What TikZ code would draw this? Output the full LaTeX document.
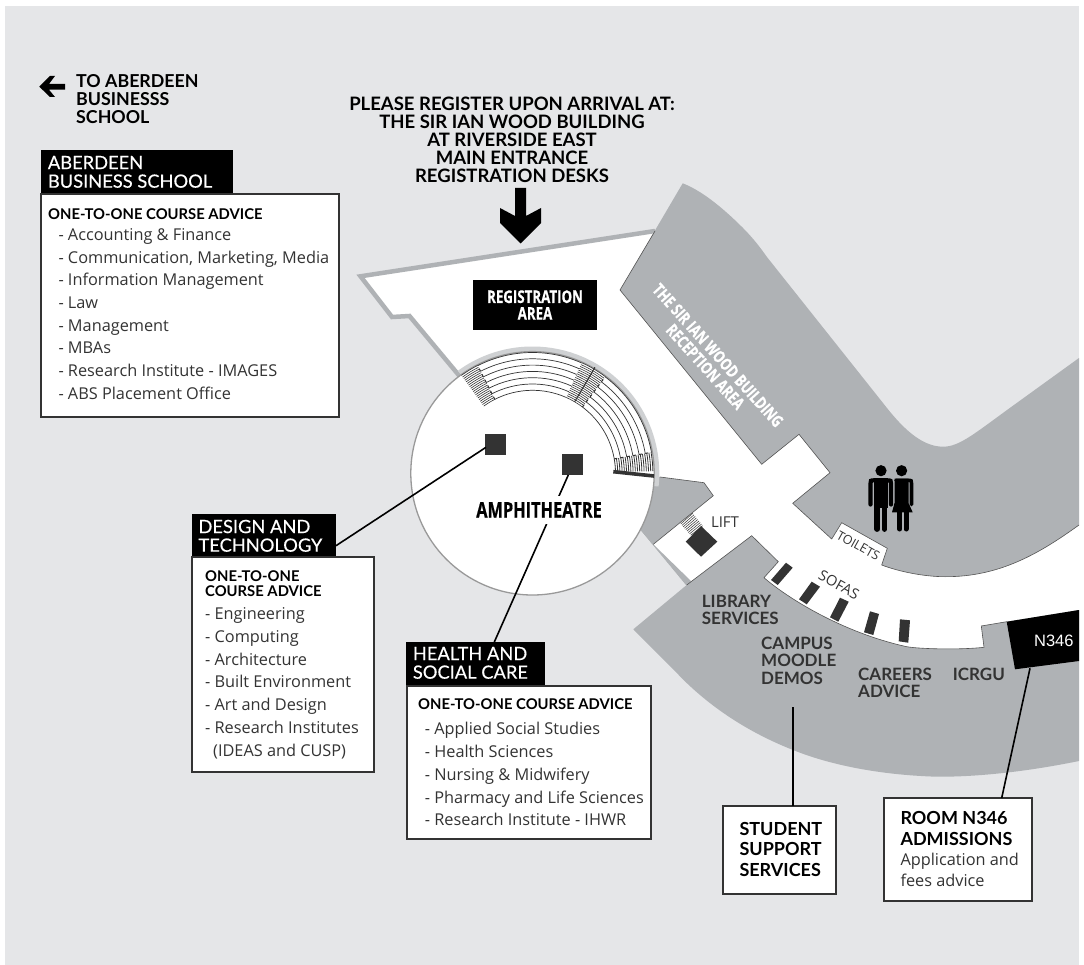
\documentclass[tikz,border=0pt]{standalone}
\usepackage{fontspec}
\usetikzlibrary{calc}
\setmainfont{Open Sans}
\newfontfamily\condf[FakeStretch=0.76,FakeBold=0.6]{Open Sans}[BoldFont={Open Sans Bold}]
\newfontfamily\capsf{Lato}
\newfontfamily\hdf[FakeBold=0.4]{Lato}
\newfontfamily\arialf{Liberation Sans}
\definecolor{bggrey}{HTML}{E5E6E8}
\definecolor{dgrey}{HTML}{AFB2B5}
\definecolor{lgrey}{HTML}{CFD1D3}
\definecolor{ink}{HTML}{333333}
\definecolor{edge}{HTML}{555555}
\tikzset{
  txt/.style={inner sep=0pt,anchor=base west,align=left,text=ink},
  hd/.style={txt,font=\hdf\fontsize{18.3}{18.6}\selectfont,text=white},
  sub/.style={txt,font=\capsf\fontsize{14.8}{15}\bfseries\selectfont,text=black},
  lst/.style={txt,font=\fontsize{16.3}{22.7}\selectfont},
  roomlab/.style={txt,font=\capsf\fontsize{17}{17.3}\bfseries\selectfont},
  boxed/.style={draw=ink,line width=1.8pt,fill=white,inner sep=0pt,anchor=north west},
  conn/.style={line width=1.6pt,black},
  edgeline/.style={draw=edge,line width=0.6pt},
  seat/.style={ink,line width=0.7pt},
  furn/.style={fill=ink},
}
\begin{document}
\begin{tikzpicture}[x=1pt,y=-1pt]
\useasboundingbox (0,0) rectangle (1084,965);
\fill[bggrey] (5,6) rectangle (1079,965);
% white floor
\fill[white] (360,276) -- (655,232) -- (700,300) -- (880,480) -- (1079,450) -- (1079,640) -- (1000,660) -- (900,660) -- (780,620) -- (690,590) -- (640,530) -- (460,375) -- (409,316) -- (392,317) -- cycle;
% wedge beside amphitheatre
\fill[dgrey] (640,470) -- (660,477) -- (704,482.7) -- (713.3,495.7) -- (653.3,544.3) -- (691.7,581.7) -- (686.7,586) -- (641.7,531.7) -- (620,500) -- cycle;
\draw[edgeline] (660,477) -- (704,482.7) -- (713.3,495.7) -- (653.3,544.3);
% wall
\draw[dgrey,line width=4.5pt,miter limit=10] (655,231) -- (360.5,276.3) -- (392,317) -- (409.5,316) -- (459.5,376);
% upper grey block
\fill[dgrey] (682.7,183.3) .. controls (700,190) and (720,205) .. (743,228) .. controls (752,237) and (760,247) .. (766.7,256.7) -- (883,403) .. controls (900,425) and (920,446.7) .. (943,446.7) .. controls (960,446.7) and (975,433) .. (1016.7,403) -- (1079,358) -- (1079,525) .. controls (1040,553) and (1000,577) .. (945,576.7) .. controls (925,576.7) and (900,572) .. (881.7,565) -- (887.3,548.3) -- (841.7,522.7) -- (831.7,539) -- (792.7,503.3) -- (830,472.7) -- (799,434.3) -- (761.7,464.3) -- (620,290) -- cycle;
\draw[edgeline] (655,231) -- (620,290) -- (761.7,464.3) -- (799,434.3) -- (830,472.7) -- (792.7,503.3) -- (831.7,539) -- (841.7,522.7) -- (887.3,548.3) -- (881.7,565) .. controls (900,572) and (925,576.7) .. (945,576.7) .. controls (1000,577) and (1040,553) .. (1079,525);
% lower grey block
\fill[dgrey] (633.3,629.3) -- (686.7,585) -- (751.7,535.7) -- (778.3,561.7) -- (764,577.7) .. controls (785,596) and (840,632) .. (906.7,646.7) .. controls (920,649) and (960,650) .. (984,647.3) -- (981.3,626) -- (1006.7,621.7) -- (1079,610) -- (1079,761) .. controls (1030,771) and (980,777) .. (936.7,776.7) .. controls (880,775) and (830,765) .. (793,750) .. controls (750,733) and (715,710) .. (686.7,683) -- cycle;
\draw[edgeline] (686.7,585) -- (751.7,535.7) -- (778.3,561.7) -- (764,577.7) .. controls (785,596) and (840,632) .. (906.7,646.7) .. controls (920,649) and (960,650) .. (984,647.3) -- (981.3,626) -- (1006.7,621.7);
% N346
\fill[black] (1006.7,621.7) -- (1079,610) -- (1079,661) -- (1015,669.3) -- cycle;
\node[inner sep=0pt,text=white,font=\arialf\fontsize{16.5}{18}\selectfont] (n346) at (1053.8,641) {N346};
\coordinate (n346foot) at (1030,668.3);
% amphitheatre
\begin{scope}[shift={(532.5,473.3)}]
  \draw[lgrey,line width=5pt] (-126:124.3) arc (-126:6:124.3);
  \draw[fill=white,draw=gray!80,line width=1.3pt] (0,0) circle (121.7);
  % rows
  \foreach \r in {83,89.3,95.6,101.9,108.2,114.5,120.8} {
    \draw[seat] (-66:\r) arc (-66:-117:\r);
    \draw[seat] (-53:\r) arc (-53:-10:\r);
  }
  % stairs
  \foreach \r in {83,85,...,121} {
    \draw[ink,line width=0.6pt] (-117:\r) arc (-117:-126:\r);
    \draw[ink,line width=0.6pt] (-53:\r) arc (-53:-66:\r);
  }
  \foreach \r in {83,85.2,...,121} {
    \draw[ink,line width=0.8pt] (-1:\r) arc (-1:-10:\r);
  }
  \draw[ink,line width=1pt] (-59.5:83) -- (-59.5:123);
  \draw[ink,line width=1pt,dash pattern=on 3pt off 3.3pt] (-117:83) -- (-117:121);
  \draw[ink,line width=1pt,dash pattern=on 3pt off 3.3pt] (-53:83) -- (-53:121);
  \draw[ink,line width=1pt,dash pattern=on 3pt off 3.3pt] (-10:83) -- (-10:121);
\end{scope}
\draw[ink,line width=3.6pt] (613.3,471.7) -- (654,476);
% lift
\fill[furn] (701,526) -- (717.3,541.7) -- (701,556.7) -- (685.7,541.7) -- cycle;
\foreach \t in {0,0.125,...,1} {
  \draw[ink,line width=0.5pt] ($(680.7,524)!\t!(690.7,535.3)$) -- ($(692.7,513.3)!\t!(702.7,525.7)$);
}
% sofas
\fill[furn] (786,562.7) -- (792.7,567.7) -- (777.7,585) -- (771,580) -- cycle;
\fill[furn] (811.7,581.7) -- (820,586.7) -- (806.7,604.3) -- (799,599.3) -- cycle;
\fill[furn] (840,597.7) -- (848.7,601.7) -- (838.3,621.7) -- (830,617.3) -- cycle;
\fill[furn] (870,611.3) -- (879,614) -- (873.3,635) -- (864,632.3) -- cycle;
\fill[furn] (900,619.3) -- (910,620.3) -- (908.3,642.7) -- (898.7,641.3) -- cycle;
% people
\fill[black] (881,470.7) circle (5.6);
\fill[black] (901.6,470.7) circle (5.6);
\draw[black,line width=4.2pt,line cap=round] (870.5,504.5) -- (870.5,483.5) .. controls (870.5,480.5) .. (874,480.3) -- (887,480.3) .. controls (891,480.5) .. (891,483.5) -- (891,504.5);
\fill[black] (874,478.5) rectangle (887.5,508);
\draw[black,line width=5.8pt,line cap=round] (877.3,505) -- (877.3,529);
\draw[black,line width=5.8pt,line cap=round] (884.5,505) -- (884.5,529);
\draw[black,line width=3.6pt,line cap=round] (911.5,504.5) -- (911.5,483.5) .. controls (911.5,480.5) .. (908,480.3) -- (896,480.3);
\fill[black] (894.5,478.5) -- (908.5,478.5) -- (908.5,503) -- (912.7,512.3) -- (892,512.3) -- (894.5,503) -- cycle;
\draw[black,line width=5pt,line cap=round] (899.7,510) -- (899.7,529);
\draw[black,line width=5pt,line cap=round] (906,510) -- (906,529);
% rotated labels
\node[inner sep=0pt,align=center,text=white,rotate=-48,font=\condf\bfseries\fontsize{16.8}{17}\selectfont] (reception) at (711.7,361) {THE SIR IAN WOOD BUILDING\\RECEPTION AREA};
\node[inner sep=0pt,text=ink,rotate=-29,font=\fontsize{12.5}{15}\selectfont] (toilets) at (858.3,545.7) {TOILETS};
\node[inner sep=0pt,text=ink,rotate=-29,font=\fontsize{14.5}{17}\selectfont] (sofas) at (839,585) {SOFAS};
\node[inner sep=0pt,text=ink,font=\fontsize{15}{17}\selectfont] (lift) at (725,522.5) {LIFT};
% room labels
\node[roomlab] (library) at (701.7,624.3) {LIBRARY\\SERVICES};
\node[roomlab] (moodle) at (761,684) {CAMPUS\\MOODLE\\DEMOS};
\node[roomlab] (careers) at (858,697.3) {CAREERS\\ADVICE};
\node[roomlab] (icrgu) at (952.7,680) {ICRGU};
% registration
\node[fill=black,text=white,inner sep=0pt,minimum width=124pt,minimum height=50pt,align=center,font=\condf\bfseries\fontsize{17.5}{16.7}\selectfont] (regarea) at (535,305) {REGISTRATION\\AREA};
% top arrow
\fill[black] (515,188) -- (526,188) -- (526,216) -- (541,208) -- (541,223) -- (520.5,243.5) -- (500,223) -- (500,208) -- (515,216) -- cycle;
\node[txt,text=black,align=center,anchor=base,font=\capsf\fontsize{18.5}{18.1}\bfseries\selectfont] (please) at (512,182.7) {PLEASE REGISTER UPON ARRIVAL AT:\\THE SIR IAN WOOD BUILDING\\AT RIVERSIDE EAST\\MAIN ENTRANCE\\REGISTRATION DESKS};
% left arrow
\fill[black] (39.3,86.7) -- (50,76) -- (55,76) -- (49,84) -- (65,84) -- (65,89.7) -- (49,89.7) -- (55,97) -- (50,97) -- cycle;
\node[txt,text=black,font=\capsf\fontsize{17.8}{18}\bfseries\selectfont] (toabs) at (76,123.3) {TO ABERDEEN\\BUSINESSS\\SCHOOL};
% ABS
\fill[black] (41,150) rectangle (232.7,194);
\node[hd] (abshd) at (47.7,187.7) {ABERDEEN\\BUSINESS SCHOOL};
\draw[boxed] (40.7,194) rectangle (339.3,416.7);
\node[sub] (abssub) at (48,219.3) {ONE-TO-ONE COURSE ADVICE};
\node[lst] (abslist) at (58.3,399.3) {- Accounting \& Finance\\- Communication, Marketing, Media\\- Information Management\\- Law\\- Management\\- MBAs\\- Research Institute - IMAGES\\- ABS Placement Office};
% connectors
\fill[ink] (485,434) rectangle (506,455);
\fill[ink] (562,454) rectangle (583,475);
\coordinate (sqa) at (486,447.3);
\coordinate (sqb) at (568.3,475);
\coordinate (dthd) at (336,545.7);
\coordinate (hshd) at (494.3,642);
\draw[conn] (sqa) -- (dthd);
\draw[conn] (sqb) -- (hshd);
\node[fill=white,inner xsep=2pt,inner ysep=6pt,text=black,font=\condf\bfseries\fontsize{21.5}{22}\selectfont] (amphi) at (539,509.8) {AMPHITHEATRE};
% Design
\fill[black] (192,514) rectangle (336,557.3);
\node[hd] (dthead) at (198.3,551.7) {DESIGN AND\\TECHNOLOGY};
\draw[boxed] (192,557.3) rectangle (374,772);
\node[sub] (dtsub) at (205,596) {ONE-TO-ONE\\COURSE ADVICE};
\node[lst] (dtlist) at (205,756) {- Engineering\\- Computing\\- Architecture\\- Built Environment\\- Art and Design\\- Research Institutes\\\hspace*{8pt}(IDEAS and CUSP)};
% Health
\fill[black] (406,642) rectangle (545,685.7);
\node[hd] (hshead) at (412.7,678.7) {HEALTH AND\\SOCIAL CARE};
\draw[boxed] (406.7,685.7) rectangle (651,839.3);
\node[sub] (hssub) at (418,709) {ONE-TO-ONE COURSE ADVICE};
\node[lst] (hslist) at (424.7,825.7) {- Applied Social Studies\\- Health Sciences\\- Nursing \& Midwifery\\- Pharmacy and Life Sciences\\- Research Institute - IHWR};
% Student support
\draw[boxed] (723.3,805.7) rectangle (836,893.7);
\node[txt,text=black,font=\capsf\fontsize{18}{20.8}\bfseries\selectfont] (student) at (739.3,876.7) {STUDENT\\SUPPORT\\SERVICES};
\coordinate (sstop) at (792.7,805.7);
\coordinate (ssfree) at (792.7,707.3);
\draw[conn] (ssfree) -- (sstop);
% Room
\draw[boxed] (884.3,798) rectangle (1032,901.3);
\node[txt,text=black,font=\capsf\fontsize{18}{21}\bfseries\selectfont] (room) at (900.3,845) {ROOM N346\\ADMISSIONS};
\node[txt,font=\fontsize{16.3}{20.3}\selectfont] (roomtxt) at (900.3,886) {Application and\\fees advice};
\coordinate (roomtop) at (1001.7,798);
\draw[conn] (n346foot) -- (roomtop);
\end{tikzpicture}
\end{document}
